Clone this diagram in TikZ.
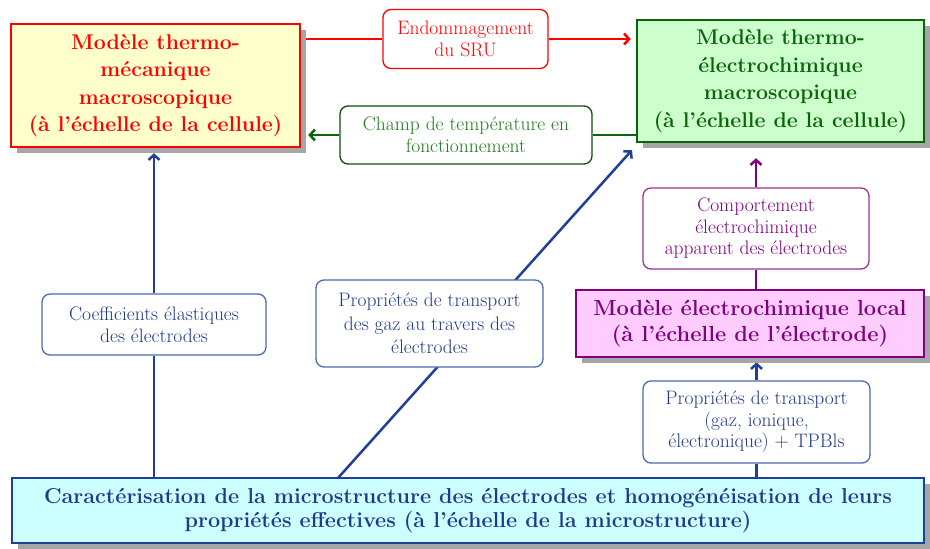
\documentclass[tikz,border=0pt]{standalone}
\usepackage{fontspec}
\usetikzlibrary{arrows.meta,shadows,calc}
\definecolor{cred}{HTML}{FF0000}
\definecolor{ygfill}{HTML}{FFFFCC}
\definecolor{cgreen}{HTML}{0A640A}
\definecolor{gtext}{HTML}{1E7B1E}
\definecolor{gfill}{HTML}{CCFFCC}
\definecolor{cpurple}{HTML}{800080}
\definecolor{pfill}{HTML}{FFCCFF}
\definecolor{cblue}{HTML}{1F3F99}
\definecolor{bbord}{HTML}{4A6BB0}
\definecolor{btext}{HTML}{1F3A8A}
\definecolor{cfill}{HTML}{CCFFFF}
\definecolor{shgray}{HTML}{A6A6A6}
\pgfdeclarelayer{back}
\pgfdeclarelayer{lines}
\pgfsetlayers{back,lines,main}
\tikzset{
  mainbox/.style={draw, line width=2.5pt, inner sep=0pt, align=center,
    font=\fontsize{21.3}{27.5}\selectfont\bfseries,
    drop shadow={shadow xshift=6pt, shadow yshift=-6pt, fill=shgray, opacity=1}},
  smallbox/.style={draw, line width=1.3pt, rounded corners=8pt, fill=white,
    inner sep=0pt, align=center, font=\fontsize{19.5}{21.5}\selectfont},
  arr/.style={line width=2.5pt, -{Straight Barb[length=5pt,width=11pt]}},
  plain/.style={line width=2.5pt}
}
\begin{document}
\begin{tikzpicture}[x=1pt,y=-1pt]
\begin{pgfonlayer}{back}
\fill[white] (0,0) rectangle (930,549);
\end{pgfonlayer}
\useasboundingbox (0,0) rectangle (930,549);

% main boxes
\node[mainbox, draw=cred, fill=ygfill, text=cred, minimum width=289pt, minimum height=123pt]
  (tm) at (155.5,85.5) {Modèle thermo-\\mécanique\\macroscopique\\(à l'échelle de la cellule)};
\node[mainbox, draw=cgreen, fill=gfill, text=cgreen, minimum width=287pt, minimum height=122pt]
  (te) at (780.5,81) {Modèle thermo-\\électrochimique\\macroscopique\\(à l'échelle de la cellule)};
\node[mainbox, draw=cpurple, fill=pfill, text=cpurple, minimum width=348pt, minimum height=67pt,
  font=\fontsize{21.8}{26}\selectfont\bfseries]
  (loc) at (750,323.5) {Modèle électrochimique local\\(à l'échelle de l'électrode)};
\node[mainbox, draw=cblue, fill=cfill, text=btext, minimum width=912pt, minimum height=65pt,
  font=\fontsize{21.6}{24}\selectfont\bfseries]
  (mic) at (468,510.5) {Caractérisation de la microstructure des électrodes et homogénéisation de leurs\\propriétés effectives (à l'échelle de la microstructure)};

% small boxes
\node[smallbox, draw=cred, text=cred, minimum width=165pt, minimum height=59pt]
  (endo) at (465.5,39) {Endommagement\\du SRU};
\node[smallbox, draw=cgreen!80!black, text=gtext, minimum width=252pt, minimum height=58pt]
  (champ) at (466,135) {Champ de température en\\fonctionnement};
\node[smallbox, draw=bbord, text=btext, minimum width=224pt, minimum height=61pt]
  (coef) at (154,324.5) {Coefficients élastiques\\des électrodes};
\node[smallbox, draw=bbord, text=btext, minimum width=227pt, minimum height=87pt,
  font=\fontsize{19.5}{23.5}\selectfont]
  (gaz) at (429.5,323.5) {Propriétés de transport\\des gaz au travers des\\électrodes};
\node[smallbox, draw=cpurple!80, text=cpurple, minimum width=226pt, minimum height=81pt]
  (comp) at (756,228.5) {Comportement\\électrochimique\\apparent des électrodes};
\node[smallbox, draw=bbord, text=btext, minimum width=227pt, minimum height=82pt]
  (trans) at (756.5,422) {Propriétés de transport\\(gaz, ionique,\\électronique) + TPBls};

\coordinate (ds) at (338,478);
\coordinate (de) at (632,150);

\begin{pgfonlayer}{lines}
\draw[arr, cred] (tm.east |- endo) -- (endo) -- ([xshift=-5pt]te.west |- endo);
\draw[arr, cgreen] (te.west |- champ) -- (champ) -- ([xshift=7pt]tm.east |- champ);
\draw[arr, cblue] (mic.north -| coef) -- (coef) -- ([yshift=-5pt]tm.south -| coef);
\draw[arr, cblue] (ds) -- (de);
\draw[arr, cpurple] (loc.north -| comp) -- (comp) -- ([yshift=-15pt]te.south -| comp);
\draw[arr, cblue] (mic.north -| trans) -- (trans) -- ([yshift=-4pt]loc.south -| trans);
\end{pgfonlayer}
\end{tikzpicture}
\end{document}
